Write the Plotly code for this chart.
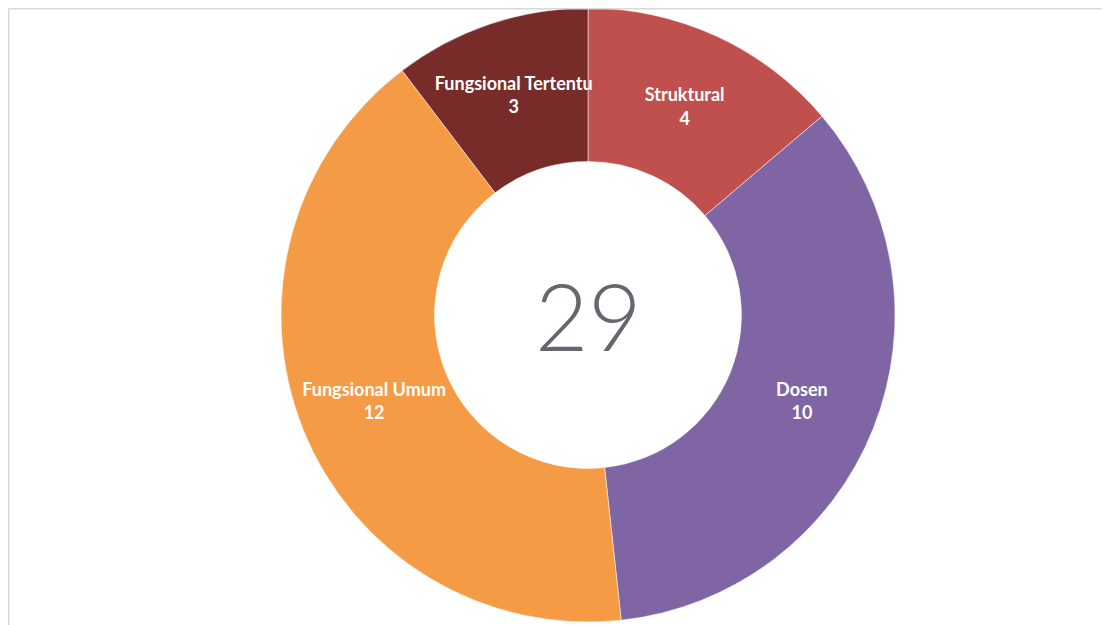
import plotly.graph_objects as go

# data
labels = ['Struktural', 'Dosen', 'Fungsional Umum', 'Fungsional Tertentu']
values = [4, 10, 12, 3]
colors = ['#C0504D', '#7F65A3', '#F59A45', '#772C2A']
total = sum(values)

# page body adds an 8px margin, so the figure is drawn 8px in
W, H = 1102, 617
cx, cy, r = 580, 307, 307

trace = go.Pie(
    labels=labels,
    values=values,
    sort=False,
    direction='clockwise',
    rotation=0,
    hole=0.5,
    marker=dict(colors=colors, line=dict(color='rgba(255,255,255,0.5)', width=1)),
    texttemplate='%{label}<br>%{value}',
    textposition='inside',
    insidetextorientation='horizontal',
    textfont=dict(family='Lato', size=18, color='white', weight='bold'),
    showlegend=False,
    domain=dict(x=[(cx - r) / W, (cx + r) / W],
                y=[max(0, (H - cy - r) / H), min(1, (H - cy + r) / H)]),
)

fig = go.Figure(data=[trace])
fig.update_layout(
    width=W, height=H,
    margin=dict(l=0, r=0, t=0, b=0),
    paper_bgcolor='white',
    uniformtext=dict(minsize=18, mode='show'),
    annotations=[dict(
        text=str(total), x=cx / W, y=1 - cy / H, xref='paper', yref='paper',
        showarrow=False, font=dict(family='Lato', size=92, color='#66666E', weight=300),
    )],
    shapes=[
        dict(type='line', xref='paper', yref='paper',
             x0=0.5 / W, x1=1100 / W, y0=1 - 0.5 / H, y1=1 - 0.5 / H,
             line=dict(color='#D9D9D9', width=2)),
        dict(type='line', xref='paper', yref='paper',
             x0=0.5 / W, x1=0.5 / W, y0=0, y1=1 - 0.5 / H,
             line=dict(color='#D9D9D9', width=2)),
    ],
)

fig.write_html('out.html')
